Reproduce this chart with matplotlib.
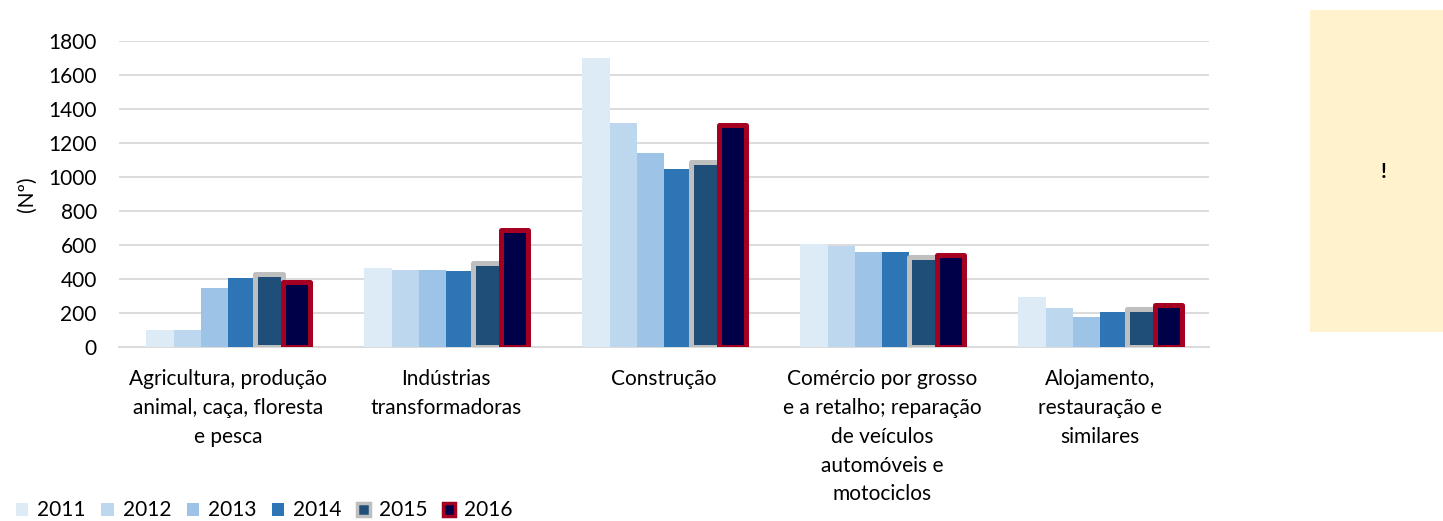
import numpy as np
import matplotlib.pyplot as plt
from matplotlib.patches import Patch, Rectangle

categorias = [
    "Agricultura, produção\nanimal, caça, floresta\ne pesca",
    "Indústrias\ntransformadoras",
    "Construção",
    "Comércio por grosso\ne a retalho; reparação\nde veículos\nautomóveis e\nmotociclos",
    "Alojamento,\nrestauração e\nsimilares",
]
anos = ["2011", "2012", "2013", "2014", "2015", "2016"]
v2011 = [100, 465, 1700, 604, 296]
v2012 = [100, 453, 1318, 596, 231]
v2013 = [350, 455, 1139, 561, 175]
v2014 = [405, 450, 1045, 557, 206]
v2015 = [430, 494, 1088, 531, 225]
v2016 = [382, 686, 1308, 543, 247]
series = [v2011, v2012, v2013, v2014, v2015, v2016]

cores = ["#DDEBF7", "#BDD7EE", "#9DC3E6", "#2E75B6", "#1F4E79", "#000048"]
bordas = [None, None, None, None, "#BFBFBF", "#A50021"]

plt.rcParams['font.family'] = ['Lato', 'DejaVu Sans']
fs = 15

fig = plt.figure(figsize=(14.43, 5.21), dpi=100)
ax = fig.add_axes([119 / 1443, 1 - 347 / 521, 1090 / 1443, 306 / 521])

x = np.arange(len(categorias))
larg = 0.125
for i, (vals, cor, borda) in enumerate(zip(series, cores, bordas)):
    pos = x + (i - 2.5) * larg
    if borda:
        ax.bar(pos, vals, width=larg, color=cor, edgecolor=borda, linewidth=3.6,
               joinstyle='round', zorder=3)
    else:
        ax.bar(pos, vals, width=larg, color=cor, zorder=3)

ax.set_ylim(0, 1800)
ax.set_yticks(range(0, 1801, 200))
ax.set_xlim(-0.5, 4.5)
ax.grid(axis='y', color='#D9D9D9', linewidth=1.3, zorder=0)
for s in ['top', 'right', 'left']:
    ax.spines[s].set_visible(False)
ax.spines['bottom'].set_color('#D9D9D9')
ax.spines['bottom'].set_linewidth(1.3)
ax.tick_params(axis='y', length=0, labelsize=fs, colors='#000000', pad=16)
ax.tick_params(axis='x', length=0, labelsize=fs, colors='#000000', pad=16)
ax.set_xticks(x)
ax.set_xticklabels(categorias, fontsize=fs, linespacing=1.55, va='top')
ax.set_ylabel("(Nº)", fontsize=fs, labelpad=8)

handles = [Patch(facecolor=c, edgecolor=(b if b else c), linewidth=(2.5 if b else 0))
           for c, b in zip(cores, bordas)]
fig.legend(handles, anos, loc='lower left', bbox_to_anchor=(-0.002, -0.035), ncol=6,
           frameon=False, fontsize=fs, handlelength=0.6, handleheight=0.6,
           handletextpad=0.43, columnspacing=0.74)

fig.patches.append(Rectangle((1310 / 1443, 1 - 332 / 521), 133 / 1443, 322 / 521,
                             transform=fig.transFigure, facecolor='#FFF2CC',
                             edgecolor='none', zorder=0))
fig.text(1384 / 1443, 1 - 172 / 521, "!", fontsize=fs, fontweight='bold',
         ha='center', va='center')

fig.savefig("out.png", dpi=100)
